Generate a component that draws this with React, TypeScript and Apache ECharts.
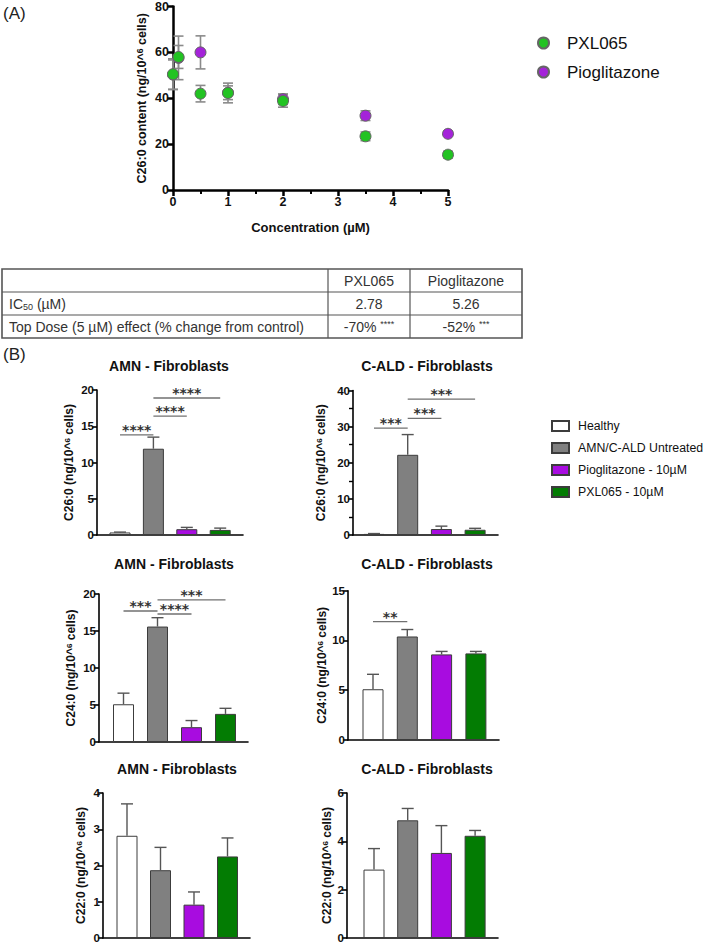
import React, { useEffect, useRef } from "react";
import * as echarts from "echarts";

const FONT = "'Liberation Sans', Arial, Helvetica, sans-serif";

// ---------------- Panel A : dose response ----------------
const concentrations = [0, 0.1, 0.5, 1, 2, 3.5, 5];
const pxl065Mean = [50.5, 58.0, 42.0, 42.3, 38.8, 23.4, 15.4];
const pxl065Sd = [6.7, 5.0, 3.6, 4.3, 2.7, 1.9, 1.5];
const pioMean = [50.3, 57.6, 60.0, 42.4, 39.6, 32.4, 24.5];
const pioSd = [6.4, 9.5, 7.2, 3.0, 2.3, 2.1, 0.8];
const scatterNames = ["PXL065", "Pioglitazone"];
const scatterColors = ["#22c322", "#a423d9"];

// ---------------- Table ----------------
const tableColumns = ["PXL065", "Pioglitazone"];
const tableRowLabels = ["IC{sub|50} (µM)", "Top Dose (5 µM) effect (% change from control)"];
const ic50Values = ["2.78", "5.26"];
const topDoseValues = ["-70%", "-52%"];
const topDoseStars = ["****", "***"];

// ---------------- Panel B : bar charts ----------------
const groups = ["Healthy", "AMN/C-ALD Untreated", "Pioglitazone - 10µM", "PXL065 - 10µM"];
const groupColors = ["#ffffff", "#808080", "#a80ce0", "#037c03"];

const amnC26Mean = [0.35, 11.9, 0.8, 0.7];
const amnC26Err = [0.05, 1.6, 0.25, 0.25];
const caldC26Mean = [0.3, 22.2, 1.65, 1.45];
const caldC26Err = [0.1, 5.6, 0.8, 0.4];
const amnC24Mean = [5.1, 15.6, 2.0, 3.8];
const amnC24Err = [1.5, 1.2, 0.9, 0.75];
const caldC24Mean = [5.1, 10.4, 8.6, 8.7];
const caldC24Err = [1.5, 0.7, 0.3, 0.2];
const amnC22Mean = [2.82, 1.87, 0.92, 2.25];
const amnC22Err = [0.88, 0.63, 0.35, 0.51];
const caldC22Mean = [2.83, 4.87, 3.52, 4.23];
const caldC22Err = [0.87, 0.49, 1.13, 0.22];

// significance brackets: [from group, to group, height]
const amnC26Sig = [[0, 1, 13.8], [1, 2, 16.4], [1, 3, 18.9]];
const amnC26SigLabels = ["****", "****", "****"];
const caldC26Sig = [[0, 1, 29.6], [1, 2, 32.3], [1, 3, 37.6]];
const caldC26SigLabels = ["***", "***", "***"];
const amnC24Sig = [[0, 1, 17.7], [1, 2, 17.3], [1, 3, 19.2]];
const amnC24SigLabels = ["***", "****", "***"];
const caldC24Sig = [[0, 1, 11.9]];
const caldC24SigLabels = ["**"];
const amnC22Sig: number[][] = [];
const amnC22SigLabels: string[] = [];
const caldC22Sig: number[][] = [];
const caldC22SigLabels: string[] = [];

// layout (pixel positions) of each bar panel
const barPanels = [
  { title: "AMN - Fibroblasts", yLabel: "C26:0", mean: amnC26Mean, err: amnC26Err, sig: amnC26Sig, sigLabels: amnC26SigLabels,
    max: 20, interval: 5, minor: false, axisX: 97, c0: 120, sp: 33.4, end: 243, top: 390, bottom: 535, titleX: 169, titleY: 367, nameGap: 22 },
  { title: "C-ALD - Fibroblasts", yLabel: "C26:0", mean: caldC26Mean, err: caldC26Err, sig: caldC26Sig, sigLabels: caldC26SigLabels,
    max: 40, interval: 10, minor: true, axisX: 353, c0: 374, sp: 33.7, end: 498, top: 390.5, bottom: 535, titleX: 427, titleY: 367, nameGap: 26 },
  { title: "AMN - Fibroblasts", yLabel: "C24:0", mean: amnC24Mean, err: amnC24Err, sig: amnC24Sig, sigLabels: amnC24SigLabels,
    max: 20, interval: 5, minor: false, axisX: 99, c0: 123.5, sp: 34, end: 248, top: 594, bottom: 742, titleX: 174, titleY: 565, nameGap: 22 },
  { title: "C-ALD - Fibroblasts", yLabel: "C24:0", mean: caldC24Mean, err: caldC24Err, sig: caldC24Sig, sigLabels: caldC24SigLabels,
    max: 15, interval: 5, minor: false, axisX: 348, c0: 373, sp: 34.3, end: 499, top: 590.7, bottom: 740, titleX: 427, titleY: 565, nameGap: 20 },
  { title: "AMN - Fibroblasts", yLabel: "C22:0", mean: amnC22Mean, err: amnC22Err, sig: amnC22Sig, sigLabels: amnC22SigLabels,
    max: 4, interval: 1, minor: false, axisX: 103, c0: 127, sp: 33.5, end: 250, top: 793, bottom: 938, titleX: 177, titleY: 770, nameGap: 16 },
  { title: "C-ALD - Fibroblasts", yLabel: "C22:0", mean: caldC22Mean, err: caldC22Err, sig: caldC22Sig, sigLabels: caldC22SigLabels,
    max: 6, interval: 2, minor: false, axisX: 347, c0: 374, sp: 33.7, end: 498, top: 793, bottom: 938, titleX: 427, titleY: 770, nameGap: 14 },
];

const tickLabelStyle = { fontFamily: FONT, fontWeight: "bold", color: "#111" };

function scatterErr(color: string) {
  return (params: any, api: any) => {
    const x = api.value(0), m = api.value(1), s = api.value(2);
    const t = api.coord([x, m + s]);
    const b = api.coord([x, m - s]);
    const w = 5;
    const st = { stroke: color, lineWidth: 1.6 };
    return {
      type: "group",
      children: [
        { type: "line", shape: { x1: t[0], y1: t[1], x2: b[0], y2: b[1] }, style: st },
        { type: "line", shape: { x1: t[0] - w, y1: t[1], x2: t[0] + w, y2: t[1] }, style: st },
        { type: "line", shape: { x1: b[0] - w, y1: b[1], x2: b[0] + w, y2: b[1] }, style: st },
      ],
    };
  };
}

function barErr(params: any, api: any) {
  const x = api.value(0), m = api.value(1), e = api.value(2);
  const b = api.coord([x, m]);
  const t = api.coord([x, m + e]);
  const w = 6;
  const st = { stroke: "#555", lineWidth: 1.4 };
  return {
    type: "group",
    children: [
      { type: "line", shape: { x1: b[0], y1: b[1], x2: t[0], y2: t[1] }, style: st },
      { type: "line", shape: { x1: t[0] - w, y1: t[1], x2: t[0] + w, y2: t[1] }, style: st },
    ],
  };
}

function bracket(labels: string[]) {
  return (params: any, api: any) => {
    const x1 = api.value(0), x2 = api.value(1), y = api.value(2);
    const p1 = api.coord([x1, y]);
    const p2 = api.coord([x2, y]);
    return {
      type: "group",
      children: [
        { type: "line", shape: { x1: p1[0], y1: p1[1], x2: p2[0], y2: p2[1] }, style: { stroke: "#707070", lineWidth: 1.3 } },
        {
          type: "text",
          x: (p1[0] + p2[0]) / 2,
          y: p1[1] - 5,
          style: {
            text: labels[params.dataIndex],
            fill: "#333",
            fontSize: 14,
            fontWeight: "bold",
            fontFamily: "'DejaVu Sans', sans-serif",
            align: "center",
            verticalAlign: "middle",
            textAlign: "center",
            textVerticalAlign: "middle",
          },
        },
      ],
    };
  };
}

function buildOption() {
  const grids: any[] = [{ left: 173, top: 5, width: 275, height: 185 }];
  const xAxes: any[] = [
    {
      gridIndex: 0, type: "value", min: 0, max: 5, interval: 1,
      axisLine: { show: true, lineStyle: { color: "#000", width: 2.5 } },
      axisTick: { show: true, length: 6, lineStyle: { color: "#000", width: 2.5 } },
      minorTick: { show: true, splitNumber: 2, length: 4, lineStyle: { color: "#000", width: 2 } },
      axisLabel: { ...tickLabelStyle, fontSize: 12.5, margin: 5 },
      splitLine: { show: false },
      name: "Concentration (µM)", nameLocation: "middle", nameGap: 31,
      nameTextStyle: { fontFamily: FONT, fontWeight: "bold", fontSize: 13, color: "#111" },
    },
  ];
  const yAxes: any[] = [
    {
      gridIndex: 0, type: "value", min: 0, max: 80, interval: 20,
      axisLine: { show: true, lineStyle: { color: "#000", width: 2.5 } },
      axisTick: { show: true, length: 6, lineStyle: { color: "#000", width: 2.5 } },
      axisLabel: { ...tickLabelStyle, fontSize: 12.5, margin: 4 },
      splitLine: { show: false },
      name: "C26:0 content (ng/10^{sup|6} cells)", nameLocation: "middle", nameGap: 25,
      nameTextStyle: {
        fontFamily: FONT, fontWeight: "bold", fontSize: 12.5, color: "#111",
        rich: { sup: { fontFamily: FONT, fontWeight: "bold", fontSize: 8.5, color: "#111", verticalAlign: "top" } },
      },
    },
  ];
  const series: any[] = [
    {
      type: "custom", name: "pioErr", xAxisIndex: 0, yAxisIndex: 0, silent: true, z: 1,
      data: concentrations.map((c, i) => [c, pioMean[i], pioSd[i]]), renderItem: scatterErr("#8a8a8a"),
    },
    {
      type: "custom", name: "pxlErr", xAxisIndex: 0, yAxisIndex: 0, silent: true, z: 1,
      data: concentrations.map((c, i) => [c, pxl065Mean[i], pxl065Sd[i]]), renderItem: scatterErr("#8a8a8a"),
    },
    {
      type: "scatter", name: scatterNames[1], xAxisIndex: 0, yAxisIndex: 0, symbol: "circle", symbolSize: 11, z: 3,
      data: concentrations.map((c, i) => [c, pioMean[i]]),
      itemStyle: { color: scatterColors[1], borderColor: "#666", borderWidth: 1, opacity: 1 },
    },
    {
      type: "scatter", name: scatterNames[0], xAxisIndex: 0, yAxisIndex: 0, symbol: "circle", symbolSize: 11, z: 4,
      data: concentrations.map((c, i) => [c, pxl065Mean[i]]),
      itemStyle: { color: scatterColors[0], borderColor: "#666", borderWidth: 1, opacity: 1 },
    },
  ];

  barPanels.forEach((p, k) => {
    const gi = k + 1;
    const minX = -(p.c0 - p.axisX) / p.sp;
    const maxX = 3 + (p.end - (p.c0 + 3 * p.sp)) / p.sp;
    grids.push({ left: p.axisX, top: p.top, width: p.end - p.axisX, height: p.bottom - p.top });
    xAxes.push({
      gridIndex: gi, type: "value", min: minX, max: maxX,
      axisLine: { show: true, onZero: false, lineStyle: { color: "#000", width: 1.6 } },
      axisTick: { show: false }, axisLabel: { show: false }, splitLine: { show: false },
    });
    yAxes.push({
      gridIndex: gi, type: "value", min: 0, max: p.max, interval: p.interval,
      axisLine: { show: true, onZero: false, lineStyle: { color: "#000", width: 1.6 } },
      axisTick: { show: true, length: 5, lineStyle: { color: "#000", width: 1.6 } },
      minorTick: { show: p.minor, splitNumber: 2, length: 4, lineStyle: { color: "#000", width: 1.4 } },
      axisLabel: { ...tickLabelStyle, fontSize: 11.5, margin: 3 },
      splitLine: { show: false },
      name: p.yLabel + " (ng/10^{sup|6} cells)", nameLocation: "middle", nameGap: p.nameGap,
      nameTextStyle: {
        fontFamily: FONT, fontWeight: "bold", fontSize: 12, color: "#111",
        rich: { sup: { fontFamily: FONT, fontWeight: "bold", fontSize: 8, color: "#111", verticalAlign: "top" } },
      },
    });
    groups.forEach((g, i) => {
      series.push({
        type: "bar", name: g, xAxisIndex: gi, yAxisIndex: gi, silent: true,
        data: [[i, p.mean[i]]], barWidth: 21, barGap: "-100%",
        itemStyle: { color: groupColors[i], borderColor: "#3c3c3c", borderWidth: 1 },
      });
    });
    series.push({
      type: "custom", xAxisIndex: gi, yAxisIndex: gi, silent: true, z: 3,
      data: p.mean.map((m, i) => [i, m, p.err[i]]), renderItem: barErr,
    });
    if (p.sig.length) {
      series.push({
        type: "custom", xAxisIndex: gi, yAxisIndex: gi, silent: true, z: 4,
        data: p.sig, renderItem: bracket(p.sigLabels),
      });
    }
  });

  // table graphics
  const tx = [2, 328, 410, 522];
  const ty = [269, 292, 315, 338];
  const tableStroke = "#555";
  const cellText = (text: string, x: number, y: number, align: string, extra: any = {}) => ({
    type: "text", x, y, silent: true,
    style: {
      text, fill: "#333", fontSize: 14, fontFamily: FONT,
      align, verticalAlign: "middle", textAlign: align, textVerticalAlign: "middle", ...extra,
    },
  });
  const colC = [(tx[1] + tx[2]) / 2, (tx[2] + tx[3]) / 2];
  const rowC = [(ty[0] + ty[1]) / 2, (ty[1] + ty[2]) / 2, (ty[2] + ty[3]) / 2];
  const graphics: any[] = [
    { type: "text", x: 3, y: 13, silent: true, style: { text: "(A)", fontSize: 17, fontFamily: FONT, fill: "#222", verticalAlign: "middle", textVerticalAlign: "middle" } },
    { type: "text", x: 3, y: 354, silent: true, style: { text: "(B)", fontSize: 17, fontFamily: FONT, fill: "#222", verticalAlign: "middle", textVerticalAlign: "middle" } },
    { type: "rect", silent: true, shape: { x: tx[0], y: ty[0], width: tx[3] - tx[0], height: ty[3] - ty[0] }, style: { fill: "none", stroke: tableStroke, lineWidth: 1.6 } },
    { type: "line", silent: true, shape: { x1: tx[0], y1: ty[1], x2: tx[3], y2: ty[1] }, style: { stroke: tableStroke, lineWidth: 1.2 } },
    { type: "line", silent: true, shape: { x1: tx[0], y1: ty[2], x2: tx[3], y2: ty[2] }, style: { stroke: tableStroke, lineWidth: 1.2 } },
    { type: "line", silent: true, shape: { x1: tx[1], y1: ty[0], x2: tx[1], y2: ty[3] }, style: { stroke: tableStroke, lineWidth: 1.2 } },
    { type: "line", silent: true, shape: { x1: tx[2], y1: ty[0], x2: tx[2], y2: ty[3] }, style: { stroke: tableStroke, lineWidth: 1.2 } },
    cellText(tableColumns[0], colC[0], rowC[0], "center"),
    cellText(tableColumns[1], colC[1], rowC[0], "center"),
    cellText(tableRowLabels[0], 9, rowC[1], "left", {
      rich: { sub: { fontSize: 9, fontFamily: FONT, fill: "#333", verticalAlign: "bottom", padding: [6, 0, 0, 0] } },
    }),
    cellText(ic50Values[0], colC[0], rowC[1], "center"),
    cellText(ic50Values[1], colC[1], rowC[1], "center"),
    cellText(tableRowLabels[1], 9, rowC[2], "left"),
    cellText(topDoseValues[0] + " {st|" + topDoseStars[0] + "}", colC[0], rowC[2], "center", {
      rich: { st: { fontSize: 9, fontFamily: FONT, fill: "#333", verticalAlign: "top", padding: [0, 0, 5, 0] } },
    }),
    cellText(topDoseValues[1] + " {st|" + topDoseStars[1] + "}", colC[1], rowC[2], "center", {
      rich: { st: { fontSize: 9, fontFamily: FONT, fill: "#333", verticalAlign: "top", padding: [0, 0, 5, 0] } },
    }),
  ];

  return {
    animation: false,
    backgroundColor: "#ffffff",
    textStyle: { fontFamily: FONT },
    title: barPanels.map((p) => ({
      text: p.title, left: p.titleX, top: p.titleY - 8, textAlign: "center", padding: 0,
      textStyle: { fontFamily: FONT, fontSize: 14, fontWeight: "bold", color: "#111" },
    })),
    legend: [
      {
        data: scatterNames, orient: "vertical", left: 532, top: 28, icon: "circle",
        itemWidth: 11, itemHeight: 11, itemGap: 9, selectedMode: false,
        textStyle: { fontFamily: FONT, fontSize: 17, color: "#111", lineHeight: 20, padding: [0, 0, 0, 13] },
      },
      {
        data: groups, orient: "vertical", left: 546, top: 413, icon: "rect",
        itemWidth: 17, itemHeight: 10, itemGap: 6, selectedMode: false,
        textStyle: { fontFamily: FONT, fontSize: 12.3, color: "#111", lineHeight: 16, padding: [0, 0, 0, 4] },
      },
    ],
    grid: grids,
    xAxis: xAxes,
    yAxis: yAxes,
    series,
    graphic: graphics,
  };
}

export default function App() {
  const ref = useRef<HTMLDivElement>(null);
  useEffect(() => {
    if (!ref.current) return;
    const chart = echarts.init(ref.current, undefined, { renderer: "svg" });
    chart.setOption(buildOption() as any);
    return () => chart.dispose();
  }, []);
  return (
    <div
      ref={ref}
      style={{ position: "absolute", left: 0, top: 0, width: 709, height: 944, background: "#fff" }}
    />
  );
}
